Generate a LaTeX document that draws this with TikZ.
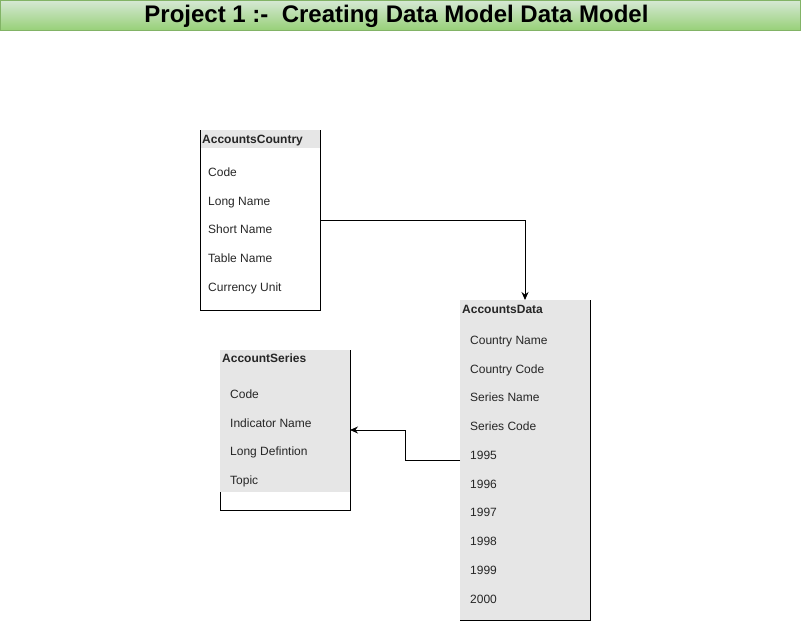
\documentclass[tikz,border=0pt]{standalone}
\usepackage{fontspec}
\setmainfont{Liberation Sans}
\usetikzlibrary{arrows.meta}
\definecolor{grayfill}{HTML}{E6E6E6}
\definecolor{gtop}{HTML}{D5E8D4}
\definecolor{gbot}{HTML}{97D077}
\definecolor{gline}{HTML}{82B366}
\begin{document}
\begin{tikzpicture}[x=1pt,y=-1pt,
  item/.style={anchor=base west, inner sep=0pt, yshift=-4.3pt, font=\fontsize{12}{14}\selectfont, text=black!85},
  hdr/.style={anchor=base west, inner sep=0pt, yshift=-4.3pt, font=\bfseries\fontsize{12}{14}\selectfont, text=black!85},
  border/.style={line width=1pt, black},
  conn/.style={line width=1pt, black, -{Stealth[length=8pt,width=7pt]}}]
\useasboundingbox (0,0) rectangle (801,621);
% title
\shade[top color=gtop, bottom color=gbot, draw=gline, line width=1pt] (0.5,0.5) rectangle (800.5,30.5);
\node[inner sep=0pt, font=\bfseries\fontsize{24}{28}\selectfont] (title) at (396.5,16) {Project 1 :-\ \ Creating Data Model Data Model};
% AccountsCountry
\node[minimum width=120pt, minimum height=180pt, inner sep=0pt, outer sep=0pt] (ac) at (260,220) {};
\fill[grayfill] (200.5,130) rectangle (320,148);
\draw[border] (200.5,130) -- (200.5,310) -- (320,310) -- (320,130);
\node[hdr] (ach) at (202,139) {AccountsCountry};
\node[item] (ac1) at (208,172) {Code};
\node[item] (ac2) at (208,201) {Long Name};
\node[item] (ac3) at (208,229) {Short Name};
\node[item] (ac4) at (208,258) {Table Name};
\node[item] (ac5) at (208,287) {Currency Unit};
% AccountSeries
\node[minimum width=130pt, minimum height=160pt, inner sep=0pt, outer sep=0pt] (as) at (285,430) {};
\fill[grayfill] (220,350) rectangle (350,492);
\draw[border] (220.5,492) -- (220.5,510) -- (350,510) -- (350,350);
\node[hdr] (ash) at (222,358) {AccountSeries};
\node[item] (as1) at (230,394) {Code};
\node[item] (as2) at (230,423) {Indicator Name};
\node[item] (as3) at (230,451) {Long Defintion};
\node[item] (as4) at (230,480) {Topic};
% AccountsData
\node[minimum width=130pt, minimum height=320pt, inner sep=0pt, outer sep=0pt] (ad) at (525,460) {};
\fill[grayfill] (460,300) rectangle (590,620);
\draw[border] (460,620) -- (590,620) -- (590,300);
\node[hdr] (adh) at (462,309) {AccountsData};
\node[item] (ad1) at (470,340) {Country Name};
\node[item] (ad2) at (470,369) {Country Code};
\node[item] (ad3) at (470,397) {Series Name};
\node[item] (ad4) at (470,426) {Series Code};
\node[item] (ad5) at (470,455) {1995};
\node[item] (ad6) at (470,484) {1996};
\node[item] (ad7) at (470,512) {1997};
\node[item] (ad8) at (470,541) {1998};
\node[item] (ad9) at (470,570) {1999};
\node[item] (ad10) at (470,599) {2000};
% connectors
\draw[conn] (ac.east) -| (ad.north);
\draw[conn] (ad.west) -- ++(-55,0) |- (as.east);
\end{tikzpicture}
\end{document}
